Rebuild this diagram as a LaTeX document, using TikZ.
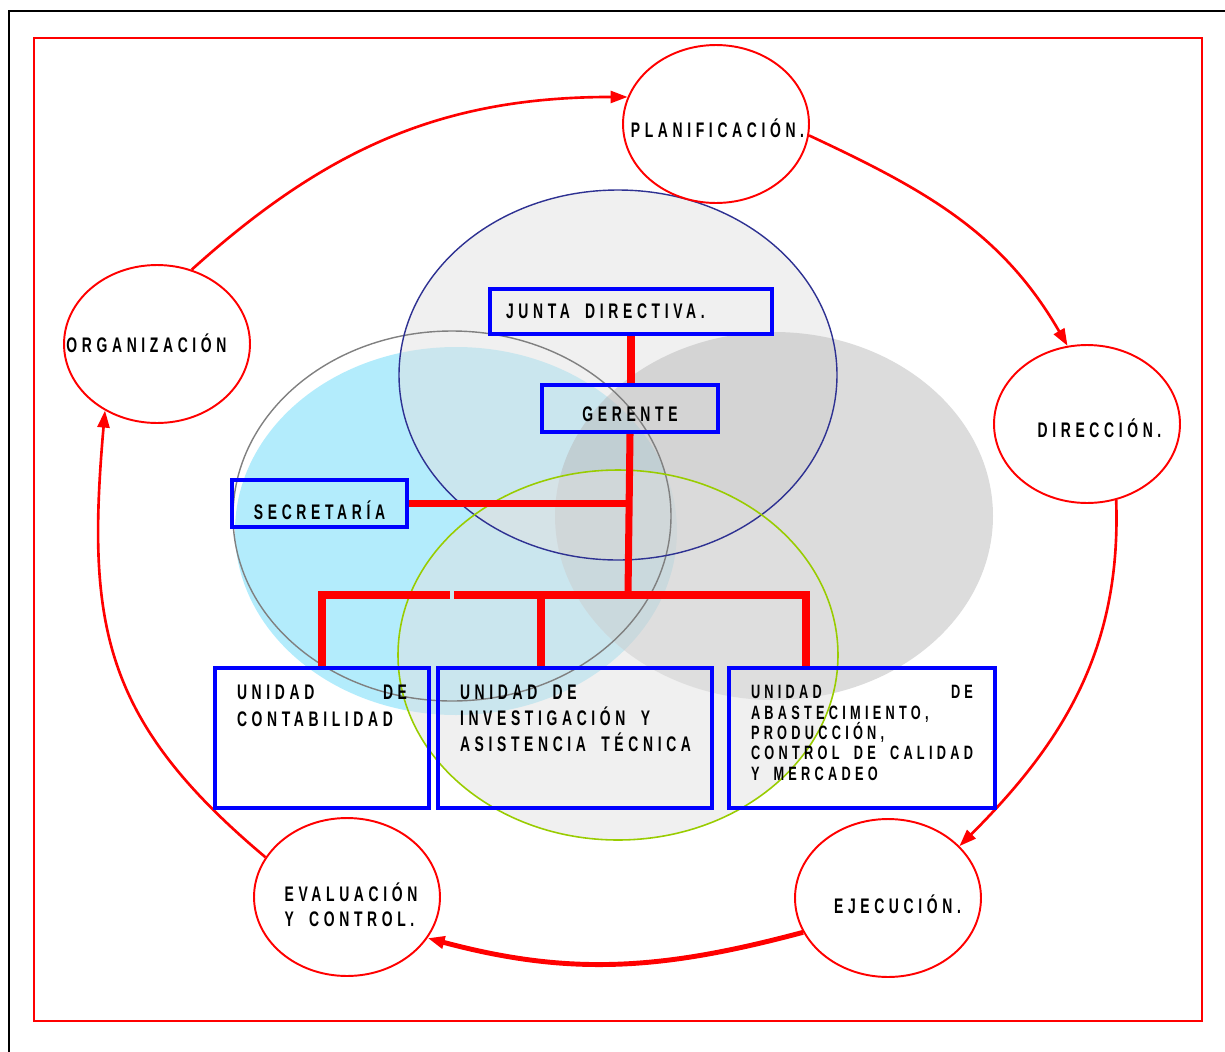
\documentclass[tikz,border=0pt]{standalone}
\usepackage{fontspec}
\setmainfont{Liberation Sans}
\newfontfamily\capsfont{Liberation Sans}[FakeStretch=0.66,LetterSpace=22,WordSpace=1.8]
\usetikzlibrary{arrows.meta,shapes.geometric,calc}

\definecolor{cyanbase}{RGB}{103,217,249}
\definecolor{lightbase}{RGB}{225,225,225}
\definecolor{graybase}{RGB}{185,185,185}
\definecolor{navyline}{RGB}{46,49,146}
\definecolor{greenline}{RGB}{153,204,0}
\definecolor{ringgray}{RGB}{128,128,128}

\tikzset{
  stage/.style={ellipse, draw=red, line width=1.1pt, fill=white,
    minimum width=3.72cm, minimum height=3.16cm, inner sep=0pt},
  stagetext/.style={font=\capsfont\bfseries\fontsize{12}{14.2}\selectfont,
    inner sep=0pt, text height=0.29cm, text depth=0pt},
  twolines/.style={font=\capsfont\bfseries\fontsize{12}{14.2}\selectfont,
    inner sep=0pt, align=left},
  headbox/.style={draw=blue, line width=2.3pt, inner xsep=0.32cm, inner ysep=0pt,
    text depth=0pt, font=\capsfont\bfseries\fontsize{12}{14}\selectfont},
  unitbox/.style={draw=blue, line width=2.3pt, inner xsep=0.4cm, inner ysep=0pt,
    minimum height=2.8cm, font=\capsfont\bfseries\fontsize{12}{15.9}\selectfont},
  orgline/.style={draw=red, line width=4pt},
  loopline/.style={draw=red, line width=1.5pt, -{Triangle[length=0.34cm,width=0.24cm]}},
}

\begin{document}
\begin{tikzpicture}[x=0.02cm, y=-0.02cm]
\useasboundingbox (0,0) rectangle (1225,1052);

% frames
\draw[line width=1.7pt] (9,1052) -- (9,11) -- (1225,11);
\draw[red, line width=1.4pt] (34,38) rectangle (1202,1021);

% shaded ellipses behind the chart
\fill[cyanbase, fill opacity=0.5] (456,531) ellipse (221 and 184);
\fill[lightbase, fill opacity=0.5] (618,375) ellipse (219 and 185);
\fill[graybase, fill opacity=0.5] (774,516) ellipse (219 and 184);
\fill[lightbase, fill opacity=0.5] (618,655) ellipse (220 and 185);
\draw[ringgray, line width=0.8pt] (452,516) ellipse (219 and 185);
\draw[navyline, line width=0.8pt] (618,375) ellipse (219 and 185);
\draw[greenline, line width=0.9pt] (618,655) ellipse (220 and 185);

% stages of the cycle
\node[stage, label={[stagetext, name=plantext, xshift=0.03cm, yshift=-0.12cm]center:PLANIFICACIÓN.}] (plan) at (716,124) {};
\node[stage, label={[stagetext, name=dirtext, xshift=0.25cm, yshift=-0.12cm]center:DIRECCIÓN.}] (dir) at (1087,424) {};
\node[stage, label={[stagetext, name=ejetext, xshift=0.19cm, yshift=-0.16cm]center:EJECUCIÓN.}] (eje) at (888,898) {};
\node[stage, label={[twolines, name=evatext, xshift=0.08cm, yshift=-0.15cm]center:{EVALUACIÓN\\Y CONTROL.}}] (eva) at (347,897) {};
\node[stage, label={[stagetext, name=orgtext, xshift=-0.21cm, yshift=-0.02cm]center:ORGANIZACIÓN}] (org) at (157,344) {};

% arrows round the cycle
\draw[loopline] (org.65) to[out=42, in=180] (plan.163);
\draw[loopline] (plan.-7) to[out=-25, in=120] (dir.104);
\draw[loopline] (dir.-69) to[out=-88, in=45] (eje.36);
\draw[loopline, line width=2.8pt] (eje.202) to[out=195, in=-15] (eva.-27);
\draw[loopline] (eva.154) to[out=140, in=-95, looseness=1.15] (org.232);

% chart boxes
\node[headbox, anchor=north west, minimum height=0.9cm, text height=0.29cm] (junta) at (488,287) {\makebox[5cm][l]{JUNTA DIRECTIVA.}};
\node[headbox, anchor=north west, minimum width=3.52cm, minimum height=0.94cm, text height=0.51cm] (gerente) at (540,383) {GERENTE};
\node[headbox, anchor=north west, minimum width=3.5cm, minimum height=0.94cm, text height=0.63cm] (secre) at (230,478) {SECRETARÍA};
\node[unitbox, anchor=north west, minimum width=4.28cm] (cont) at (213,666)
  {\parbox[c][2.8cm][t]{3.4cm}{\vspace*{0.33cm}UNIDAD\hfill DE\\CONTABILIDAD}};
\node[unitbox, anchor=north west, minimum width=5.48cm, inner xsep=0.44cm,
  font=\capsfont\bfseries\fontsize{12}{14.8}\selectfont] (inv) at (436,666)
  {\parbox[c][2.8cm][t]{4.6cm}{\raggedright\vspace*{0.33cm}UNIDAD DE\\INVESTIGACIÓN Y\\\mbox{ASISTENCIA TÉCNICA}}};
\node[unitbox, anchor=north west, minimum width=5.32cm, inner xsep=0.44cm,
  font=\capsfont\bfseries\fontsize{11}{11.6}\selectfont] (abas) at (727,666)
  {\parbox[c][2.8cm][t]{4.44cm}{\lineskiplimit=-10pt\vspace*{0.35cm}UNIDAD\hfill DE\\ABASTECIMIENTO,\\PRODUCCIÓN,\\CONTROL\hfill DE\hfill CALIDAD\\Y MERCADEO}};

% connectors of the chart
\coordinate (bus) at (628,595);
\coordinate (gapL) at (450,595);
\coordinate (gapR) at (454,595);
\draw[orgline] (junta.south) -- (junta.south |- gerente.north);
\draw[orgline] (gerente.south) -- (bus);
\draw[orgline] (secre.east) -- (secre.east -| bus);
\draw[orgline] (cont.north) |- (gapL);
\draw[orgline] (gapR) -- (bus) -| ($(abas.north west)+(79,0)$);
\draw[orgline] ($(inv.north west)+(105,0)$) |- (bus);
\end{tikzpicture}
\end{document}
